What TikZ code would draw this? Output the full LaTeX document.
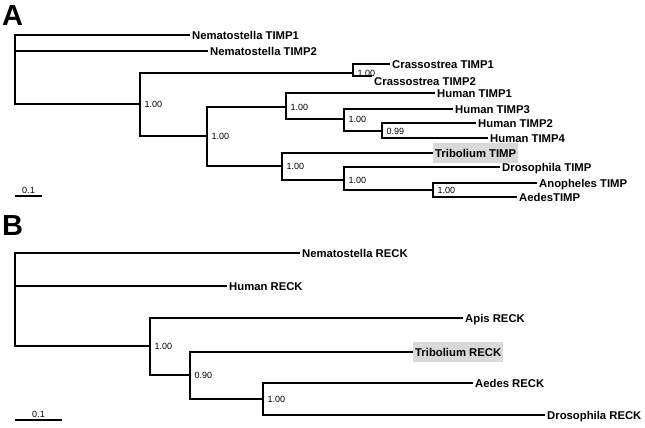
\documentclass[tikz,border=0pt]{standalone}
\usepackage{fontspec}
\setmainfont{Liberation Sans}
\usetikzlibrary{positioning}

\begin{document}
\begin{tikzpicture}[x=1pt,y=-1pt]
\tikzset{leaf/.style={
    anchor=west,
    inner xsep=2pt, inner ysep=1pt,
    text height=8.2pt, text depth=0pt,
    font=\bfseries\fontsize{11.3}{13}\selectfont
  },
  marked/.style={leaf, fill=black!15, inner ysep=5.9pt},
  support/.style={anchor=west, inner sep=0.5pt, font=\fontsize{9}{10}\selectfont},
  branch/.style={line width=1.3pt},
  panel/.style={anchor=north west, inner sep=0pt, font=\bfseries\fontsize{29}{32}\selectfont}
}
\useasboundingbox (0,0) rectangle (645,428);

\node[panel] (panelA) at (2,5) {A};
\node[panel] (panelB) at (2,215) {B};

% tree A
\coordinate (rA) at (15,70);
\coordinate (a1) at (140,104);
\coordinate (a2) at (353,73);
\coordinate (a3) at (207,136);
\coordinate (a4) at (286,107);
\coordinate (a5) at (344,119);
\coordinate (a7) at (382,131);
\coordinate (a6) at (282,166);
\coordinate (a8) at (344,180);
\coordinate (a9) at (433,190);

\node[leaf] (nemA1) at (190,35) {Nematostella TIMP1};
\node[leaf] (nemA2) at (208,51) {Nematostella TIMP2};
\node[leaf] (cras1) at (390,64) {Crassostrea TIMP1};
\node[leaf, anchor=north west] (cras2) at (372,76) {Crassostrea TIMP2};
\node[leaf] (hum1) at (435,93) {Human TIMP1};
\node[leaf] (hum3) at (453,109) {Human TIMP3};
\node[leaf] (hum2) at (476,123) {Human TIMP2};
\node[leaf] (hum4) at (488,138) {Human TIMP4};
\node[marked] (tribA) at (433,153) {Tribolium TIMP};
\node[leaf] (drosA) at (500,167) {Drosophila TIMP};
\node[leaf] (anoph) at (537,183) {Anopheles TIMP};
\node[leaf] (aedA) at (517,197) {AedesTIMP};

\draw[branch] (rA) |- (nemA1.west) (rA) |- (nemA2.west) (rA) |- (a1);
\draw[branch] (a1) |- (a2) (a1) |- (a3);
\draw[branch] (a2) |- (cras1.west) (a2) |- (cras2.north west);
\draw[branch] (a3) |- (a4) (a3) |- (a6);
\draw[branch] (a4) |- (hum1.west) (a4) |- (a5);
\draw[branch] (a5) |- (hum3.west) (a5) |- (a7);
\draw[branch] (a7) |- (hum2.west) (a7) |- (hum4.west);
\draw[branch] (a6) |- (tribA.west) (a6) |- (a8);
\draw[branch] (a8) |- (drosA.west) (a8) |- (a9);
\draw[branch] (a9) |- (anoph.west) (a9) |- (aedA.west);

\node[support, right=4pt of a1] {1.00};
\node[support, right=4pt of a2] {1.00};
\node[support, right=4pt of a3] {1.00};
\node[support, right=4pt of a4] {1.00};
\node[support, right=4pt of a5] {1.00};
\node[support, right=4pt of a7] {0.99};
\node[support, right=4pt of a6] {1.00};
\node[support, right=4pt of a8] {1.00};
\node[support, right=4pt of a9] {1.00};

\coordinate (sA1) at (15,196);
\coordinate (sA2) at (42,196);
\draw[branch] (sA1) -- (sA2);
\node[support, anchor=south] (sAlab) at (28.5,194) {0.1};

% tree B
\coordinate (rB) at (15,300);
\coordinate (b1) at (150,346);
\coordinate (b2) at (190,375);
\coordinate (b3) at (263,399);

\node[leaf] (nemB) at (300,253) {Nematostella RECK};
\node[leaf] (humB) at (227,286) {Human RECK};
\node[leaf] (apis) at (463,318) {Apis RECK};
\node[marked] (tribB) at (413,352) {Tribolium RECK};
\node[leaf] (aedB) at (473,383) {Aedes RECK};
\node[leaf] (drosB) at (545,415) {Drosophila RECK};

\draw[branch] (rB) |- (nemB.west) (rB) |- (humB.west) (rB) |- (b1);
\draw[branch] (b1) |- (apis.west) (b1) |- (b2);
\draw[branch] (b2) |- (tribB.west) (b2) |- (b3);
\draw[branch] (b3) |- (aedB.west) (b3) |- (drosB.west);

\node[support, right=4pt of b1] {1.00};
\node[support, right=4pt of b2] {0.90};
\node[support, right=4pt of b3] {1.00};

\coordinate (sB1) at (15,420);
\coordinate (sB2) at (62,420);
\draw[branch] (sB1) -- (sB2);
\node[support, anchor=south] (sBlab) at (38.5,418) {0.1};

\end{tikzpicture}
\end{document}
